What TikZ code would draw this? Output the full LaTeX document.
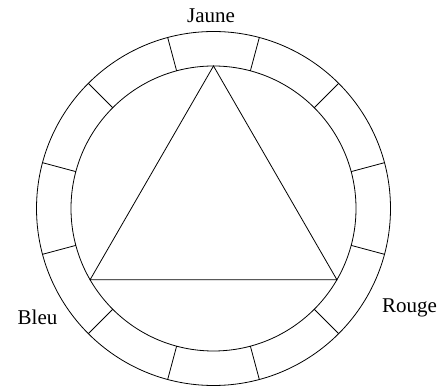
\documentclass[tikz,border=0pt]{standalone}
\usepackage{fontspec}
\setmainfont{Liberation Serif}
\usetikzlibrary{calc}
\begin{document}
\begin{tikzpicture}[x=1pt,y=1pt,line width=0.8pt,
  lbl/.style={anchor=base,inner sep=0pt,font=\fontsize{21}{25}\selectfont}]
\useasboundingbox (0,0) rectangle (441,387);
\coordinate (O) at (213.5,178.5);
\draw (O) circle[radius=177];
\draw (O) circle[radius=142.5];
\foreach \a in {15,45,...,345}
  \draw ($(O)+(\a:142.5)$) -- ($(O)+(\a:177)$);
\coordinate (Y) at ($(O)+(90:142.5)$);
\coordinate (B) at ($(O)+(210:142.5)$);
\coordinate (R) at ($(O)+(330:142.5)$);
\draw (Y) -- (B) -- (R) -- cycle;
\node[lbl] (jaune) at (211,364) {Jaune};
\node[lbl] (rouge) at (409.5,74.5) {Rouge};
\node[lbl] (bleu) at (37.5,62) {Bleu};
\end{tikzpicture}
\end{document}
